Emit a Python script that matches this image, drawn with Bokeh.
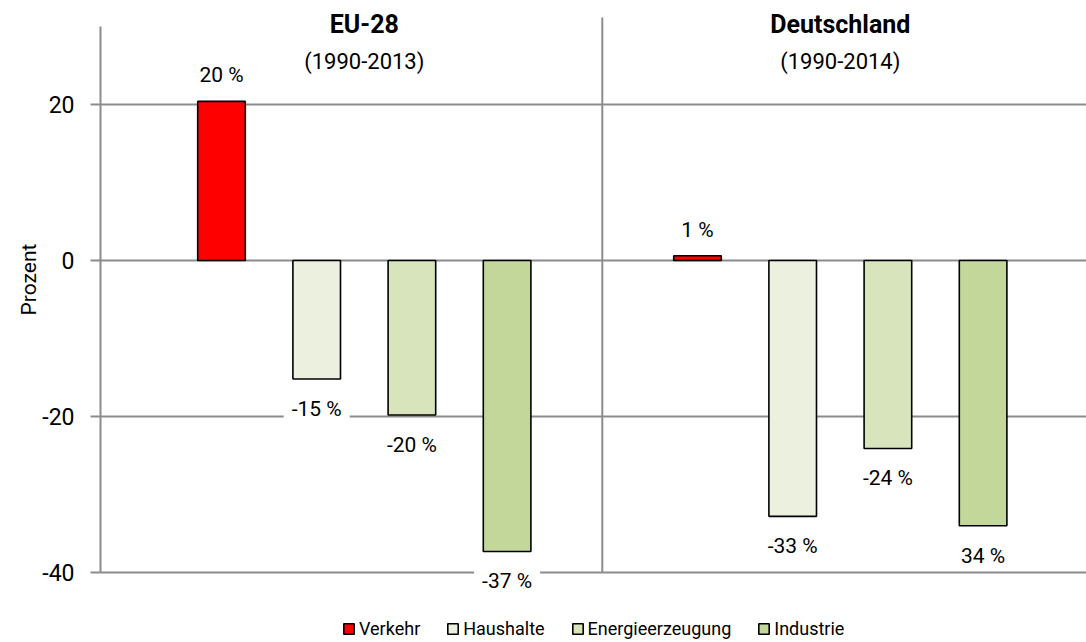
import math
from bokeh.plotting import figure
from bokeh.models import ColumnDataSource, Label, Legend, LegendItem, FixedTicker, Range1d, LinearAxis
from bokeh.embed import file_html
from bokeh.resources import INLINE

# ---- data ----
regions = ["EU-28", "Deutschland"]
periods = ["(1990-2013)", "(1990-2014)"]
sectors = ["Verkehr", "Haushalte", "Energieerzeugung", "Industrie"]
colors = ["#FF0000", "#EBF1DE", "#D8E4BC", "#C4D79B"]
eu_values = [20.4, -15.2, -19.8, -37.3]
de_values = [0.6, -32.8, -24.1, -34.0]
eu_labels = ["20 %", "-15 %", "-20 %", "-37 %"]
de_labels = ["1 %", "-33 %", "-24 %", "34 %"]
y_ticks = [-40, -20, 0, 20]
y_tick_labels = ["-40", "-20", "0", "20"]
y_axis_title = "Prozent"

values = [eu_values, de_values]
labels = [eu_labels, de_labels]

FONT = "Roboto"
GRID = "#8c8c8c"

W, H = 1086, 642
slot_px = 95.2      # pixels per bar slot
unit_px = 7.8       # pixels per percent
first_bar_px = 221  # centre of first bar (px)
zero_px = 260       # y pixel of value 0

def xd(px):
    return 1 + (px - first_bar_px) / slot_px

def yd(py):
    return (zero_px - py) / unit_px

p = figure(width=W, height=H, output_backend="svg", toolbar_location=None,
           x_range=Range1d(xd(0), xd(W)), y_range=Range1d(yd(H), yd(0)),
           x_axis_location=None, y_axis_location=None,
           min_border=0, min_border_left=0, min_border_right=0,
           min_border_top=0, min_border_bottom=0, outline_line_color=None,
           background_fill_color="white", border_fill_color="white")
p.grid.visible = False

axis_x = xd(100)
top_val = 30

# horizontal grid lines
p.segment(x0=[axis_x] * len(y_ticks), y0=y_ticks, x1=[xd(W)] * len(y_ticks), y1=y_ticks,
          line_color=GRID, line_width=2)

ax = LinearAxis(fixed_location=axis_x)
ax.ticker = FixedTicker(ticks=y_ticks)
ax.major_label_overrides = {t: s for t, s in zip(y_ticks, y_tick_labels)}
ax.bounds = (y_ticks[0], top_val)
ax.axis_line_color = GRID
ax.axis_line_width = 2
ax.major_tick_line_color = GRID
ax.major_tick_line_width = 2
ax.major_tick_out = 10
ax.major_tick_in = 0
ax.minor_tick_line_color = None
ax.major_label_text_font = FONT
ax.major_label_text_font_size = "23px"
ax.major_label_text_color = "black"
ax.major_label_standoff = 16
p.add_layout(ax, "left")

# group separator
sep_x = len(sectors) + 1
p.segment(x0=[sep_x], y0=[y_ticks[0]], x1=[sep_x], y1=[yd(17)], line_color=GRID, line_width=2)

items = []
for si, sec in enumerate(sectors):
    xs = [gi * (len(sectors) + 1) + si + 1 for gi in range(len(regions))]
    tops = [values[gi][si] for gi in range(len(regions))]
    src = ColumnDataSource(dict(x=xs, top=tops))
    r = p.vbar(x="x", top="top", bottom=0, width=0.5, source=src,
               fill_color=colors[si], line_color="black", line_width=1.6)
    items.append(LegendItem(label=sec, renderers=[r]))
    for gi in range(len(regions)):
        v = values[gi][si]
        off = (-30 if v < 0 else 26) / unit_px
        p.add_layout(Label(x=xs[gi], y=v + off, text=labels[gi][si],
                           text_align="center", text_baseline="middle",
                           text_font=FONT, text_font_size="21px", text_color="black",
                           background_fill_color="white",
                           padding=dict(left=8, right=8, top=0, bottom=0)))

# group titles
for gi in range(len(regions)):
    cx = gi * (len(sectors) + 1) + (len(sectors) + 1) / 2
    p.add_layout(Label(x=cx, y=yd(24), text=regions[gi], text_align="center",
                       text_baseline="middle", text_font=FONT, text_font_size="25px",
                       text_font_style="bold", text_color="black"))
    p.add_layout(Label(x=cx, y=yd(61), text=periods[gi], text_align="center",
                       text_baseline="middle", text_font=FONT, text_font_size="22px",
                       text_color="black"))

# y axis title
p.add_layout(Label(x=xd(28), y=yd(279), text=y_axis_title,
                   angle=math.pi / 2, text_align="center", text_baseline="middle",
                   text_font=FONT, text_font_size="21px", text_color="black"))

legend = Legend(items=items, orientation="horizontal", location=(342, 3),
                glyph_width=13, glyph_height=13, label_standoff=4, spacing=26,
                padding=0, margin=0, border_line_color=None, background_fill_alpha=0,
                label_text_font=FONT, label_text_font_size="18px", label_text_color="black")
p.add_layout(legend, "center")

open("out.html", "w").write(file_html(p, INLINE))
